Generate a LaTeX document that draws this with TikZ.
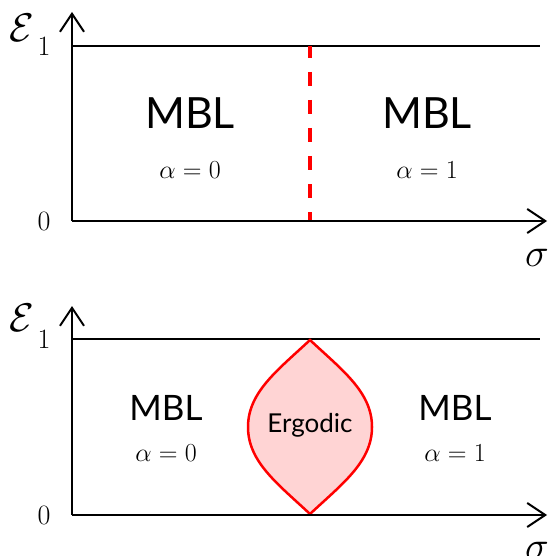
\RequirePackage{fix-cm}
\documentclass[tikz,border=0pt]{standalone}
\usepackage[no-math]{fontspec}
\newfontfamily\gill{Lato}
\usetikzlibrary{arrows.meta}
\begin{document}
\begin{tikzpicture}[x=1pt,y=-1pt,
  axis/.style={line width=2pt,-{Straight Barb[length=18pt,width=24pt,line width=2pt]}},
  edge/.style={line width=2pt},
  bigmbl/.style={font=\gill\fontsize{43}{43}\selectfont},
  midmbl/.style={font=\gill\fontsize{35}{35}\selectfont},
  alab/.style={font=\fontsize{26}{26}\selectfont},
  tick/.style={font=\fontsize{28}{28}\selectfont},
  axlab/.style={font=\fontsize{40}{40}\selectfont},
  ]
\useasboundingbox (0,0) rectangle (550,556);
% ---------- top panel
\coordinate (o1) at (72,221);
\coordinate (yt1) at (72,12);
\coordinate (xt1) at (547,221);
\coordinate (l1a) at (72,46);
\coordinate (l1b) at (540,46);
\coordinate (d1a) at (310,46);
\coordinate (d1b) at (310,221);
\draw[edge] (l1a) -- (l1b);
\draw[red,line width=3.5pt,dash pattern=on 14pt off 14pt,dash phase=2pt] (d1a) -- (d1b);
\draw[axis] (o1) -- (yt1);
\draw[axis] (o1) -- (xt1);
\node[axlab] (e1) at (22,28) {$\mathcal{E}$};
\node[tick] (one1) at (44,46) {$1$};
\node[tick] (zero1) at (44,221) {$0$};
\node[axlab] (s1) at (537,258) {$\sigma$};
\node[bigmbl] (m1l) at (190,113) {MBL};
\node[alab] (a1l) at (190,170) {$\alpha=0$};
\node[bigmbl] (m1r) at (427,113) {MBL};
\node[alab] (a1r) at (427,170) {$\alpha=1$};
% ---------- bottom panel
\coordinate (o2) at (72,515);
\coordinate (yt2) at (72,306);
\coordinate (xt2) at (547,515);
\coordinate (l2a) at (72,339);
\coordinate (l2b) at (540,339);
\coordinate (lt) at (310,340);
\coordinate (lb) at (310,514);
\coordinate (ll) at (248,427);
\coordinate (lr) at (372,427);
\draw[edge] (l2a) -- (l2b);
\draw[red,line width=2.5pt,fill=red!17,line join=miter]
  (lt) .. controls (278,370) and (248,392) .. (ll)
  .. controls (248,462) and (278,484) .. (lb)
  .. controls (342,484) and (372,462) .. (lr)
  .. controls (372,392) and (342,370) .. cycle;
\draw[axis] (o2) -- (yt2);
\draw[axis] (o2) -- (xt2);
\node[axlab] (e2) at (22,318) {$\mathcal{E}$};
\node[tick] (one2) at (44,339) {$1$};
\node[tick] (zero2) at (44,515) {$0$};
\node[axlab] (s2) at (537,551) {$\sigma$};
\node[midmbl] (m2l) at (166,408) {MBL};
\node[alab] (a2l) at (166,453) {$\alpha=0$};
\node[midmbl] (m2r) at (455,408) {MBL};
\node[alab] (a2r) at (455,453) {$\alpha=1$};
\node[font=\gill\fontsize{26}{26}\selectfont] (erg) at (310,425) {Ergodic};
\end{tikzpicture}
\end{document}
